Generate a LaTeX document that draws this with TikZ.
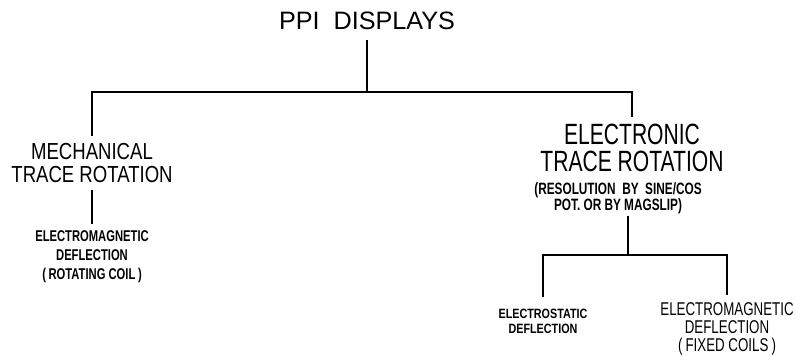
\documentclass[tikz,border=0pt]{standalone}
\usepackage{fontspec}
\setmainfont{Liberation Sans}
\newfontfamily\narrowfont[FakeStretch=0.8]{Liberation Sans}
\newfontfamily\narrowerfont[FakeStretch=0.72]{Liberation Sans}
\usetikzlibrary{positioning}

\tikzset{
  %% title : the head of the tree
  title/.style={
    inner sep=0.3cm,
    align=center,
    font=\fontsize{21.5}{24}\selectfont
  },
  %% branch : a main kind of display
  branch/.style={
    inner sep=0.2cm,
    align=center,
    font=\narrowfont\fontsize{19.8}{19.5}\selectfont
  },
  %% bigbranch : the larger main kind of display
  bigbranch/.style={
    inner sep=0.2cm,
    align=center,
    font=\narrowerfont\fontsize{25}{23}\selectfont
  },
  %% note : small bold lettering
  note/.style={
    inner sep=0.2cm,
    align=center,
    font=\narrowerfont\bfseries\fontsize{13.3}{16.3}\selectfont
  },
  %% leaf : a kind of deflection
  leaf/.style={
    inner sep=0.2cm,
    align=center,
    font=\narrowerfont\fontsize{15.8}{15.6}\selectfont
  },
  %% link : the tree lines
  link/.style={black, line width=2pt}
}

\begin{document}
\begin{tikzpicture}
  [x=0.03cm,
  y=-0.03cm]

  \useasboundingbox (0, 0) rectangle (796, 355);

  %% Tree heads
  \node (ppi) [title] at (367, 21) {PPI\ \ DISPLAYS};

  \node (mech) [branch] at (92, 163) {%
    MECHANICAL\\TRACE ROTATION
  };

  \node (mechdefl) [note] at (92, 257) {%
    ELECTROMAGNETIC\\DEFLECTION\\(\,ROTATING COIL\,)
  };

  \node (elec) [bigbranch] at (632, 148) {%
    ELECTRONIC\\TRACE ROTATION
  };

  \node (elecres) [note, font=\narrowerfont\bfseries\fontsize{14}{12.6}\selectfont,
    inner sep=0.05cm] at (618, 198) {%
    (RESOLUTION\ \ BY\ \ SINE/COS\\POT. OR\ BY\ MAGSLIP)
  };

  \node (estat) [note, font=\narrowfont\bfseries\fontsize{11.5}{12.8}\selectfont,
    inner sep=0.35cm] at (543, 321) {%
    ELECTROSTATIC\\DEFLECTION
  };

  \node (emag) [leaf] at (727, 329) {%
    ELECTROMAGNETIC\\DEFLECTION\\(\,FIXED COILS\,)
  };

  %% Junctions
  \coordinate (fork) at (367, 92);
  \coordinate (split) at (628, 255);

  %% Connections
  \draw [link] (ppi.south) -- (fork);
  \draw [link] (mech.north) |- (fork) -| (elec.north);
  \draw [link] (mech) -- (mechdefl);
  \draw [link] (elecres.south -| split) -- (split);
  \draw [link] (estat.north) |- (split) -| (emag.north);

\end{tikzpicture}
\end{document}
